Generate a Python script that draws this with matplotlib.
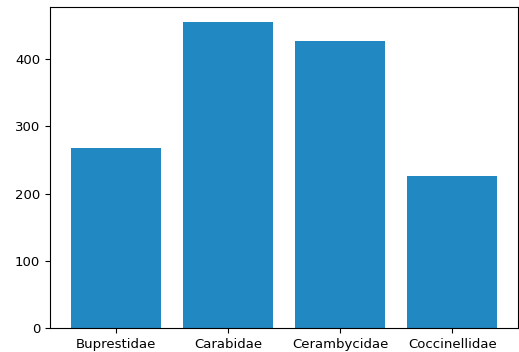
import matplotlib
matplotlib.use("Agg")
import matplotlib.pyplot as plt

families = ['Buprestidae', 'Carabidae', 'Cerambycidae', 'Coccinellidae']
counts = [268, 455, 427, 226]

fig = plt.figure(figsize=(5.19, 3.52), dpi=100)
ax = fig.add_axes([0.096, 0.068, 0.903, 0.912])
ax.bar(families, counts, color='#2288c1')
ax.tick_params(labelsize=9.5)
fig.savefig('out.png', dpi=100)
